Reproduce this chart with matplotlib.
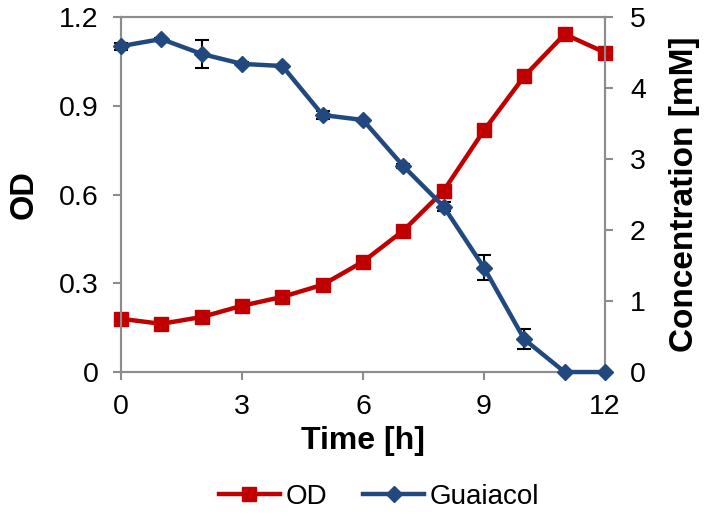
import matplotlib
matplotlib.use("Agg")
import matplotlib.pyplot as plt

plt.rcParams['font.family'] = ['Liberation Sans', 'DejaVu Sans']

time_h = [0, 1, 2, 3, 4, 5, 6, 7, 8, 9, 10, 11, 12]
od = [0.180, 0.163, 0.186, 0.224, 0.254, 0.295, 0.373, 0.478, 0.613, 0.817, 1.000, 1.142, 1.080]
guaiacol = [4.59, 4.69, 4.48, 4.34, 4.31, 3.62, 3.55, 2.90, 2.33, 1.47, 0.46, 0.0, 0.0]
guaiacol_err = [0.05, 0.02, 0.20, 0.02, 0.02, 0.05, 0.02, 0.03, 0.06, 0.18, 0.14, 0.0, 0.0]

od_ticks = [0, 0.3, 0.6, 0.9, 1.2]
od_labels = ['0', '0.3', '0.6', '0.9', '1.2']
conc_ticks = [0, 1, 2, 3, 4, 5]
time_ticks = [0, 3, 6, 9, 12]

RED = '#C00000'
BLUE = '#22497F'
GRAY = '#8C8C8C'

fig = plt.figure(figsize=(7.11, 5.24), dpi=100)
ax = fig.add_axes([0.1702, 0.290, 0.6807, 0.6775])
ax2 = ax.twinx()

l1, = ax.plot(time_h, od, color=RED, lw=3.2, marker='s', markersize=9.5, label='OD', zorder=3)
ax2.errorbar(time_h, guaiacol, yerr=guaiacol_err, fmt='none', ecolor='black', elinewidth=1.5,
             capsize=5, capthick=1.5, zorder=2)
l2, = ax2.plot(time_h, guaiacol, color=BLUE, lw=3.2, marker='D', markersize=8.5, label='Guaiacol', zorder=3)

ax.set_xlim(0, 12)
ax.set_ylim(0, 1.2)
ax2.set_ylim(0, 5)
ax.set_xticks(time_ticks)
ax.set_yticks(od_ticks)
ax.set_yticklabels(od_labels)
ax2.set_yticks(conc_ticks)

for a in (ax, ax2):
    for s in a.spines.values():
        s.set_color(GRAY)
        s.set_linewidth(1.5)
    a.tick_params(colors=GRAY, labelcolor='black', labelsize=20.5, width=1.5, length=6, direction='out')
ax.tick_params(axis='x', pad=10)
ax.tick_params(axis='y', pad=10)
ax2.tick_params(axis='y', pad=12)

ax.set_xlabel('Time [h]', fontsize=23, fontweight='bold', labelpad=4)
ax.set_ylabel('OD', fontsize=23.5, fontweight='bold', labelpad=14)
ax2.set_ylabel('Concentration [mM]', fontsize=24, fontweight='bold', labelpad=17)

for a in (ax, ax2):
    for line in a.get_lines():
        line.set_clip_on(False)

fig.legend(handles=[l1, l2], loc='center', bbox_to_anchor=(0.533, 0.052), ncol=2, frameon=False,
           fontsize=20, handlelength=2.2, handletextpad=0.2, columnspacing=1.3)

fig.savefig('out.png', dpi=100)
